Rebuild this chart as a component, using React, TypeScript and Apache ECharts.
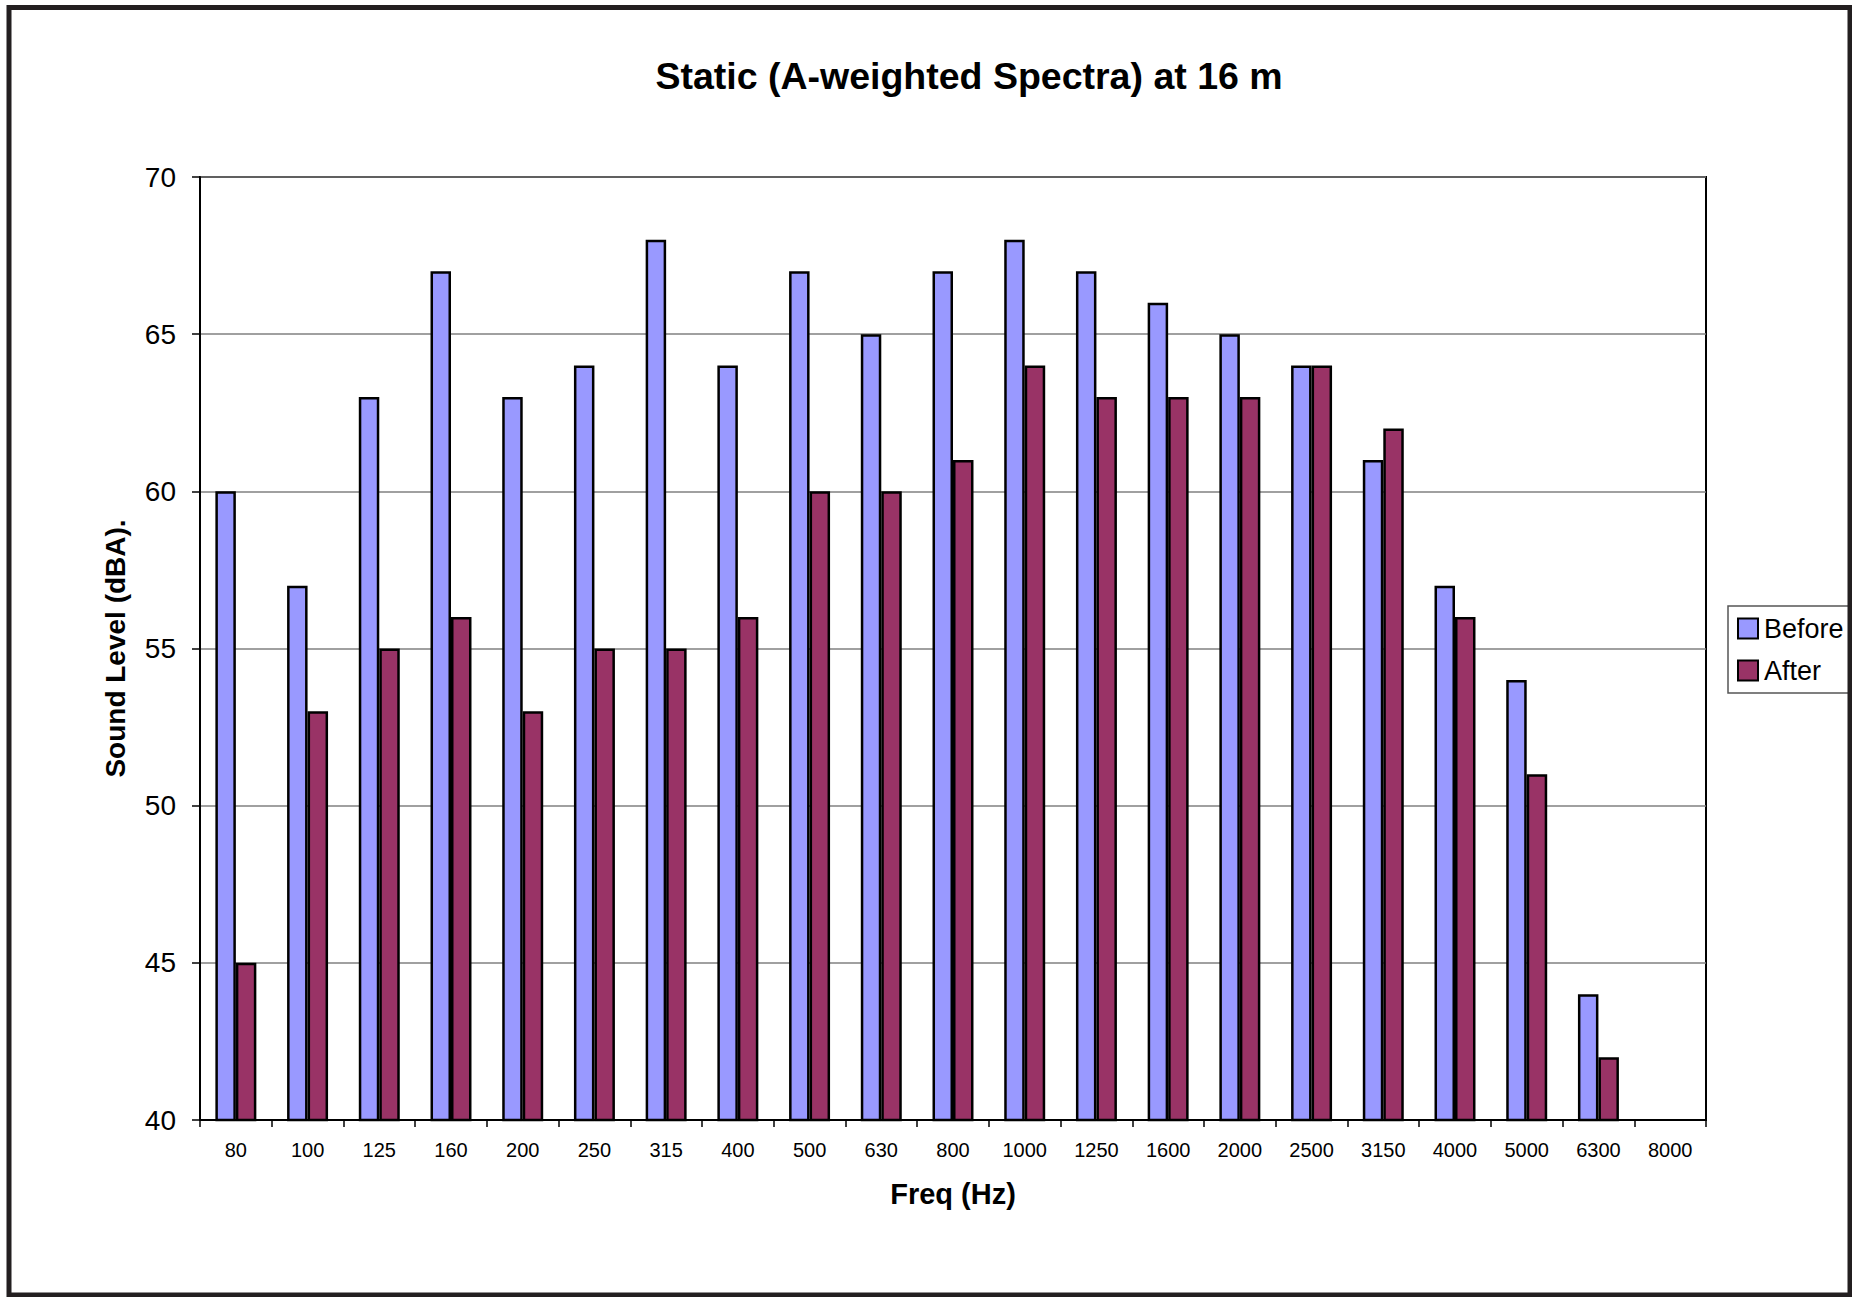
import React, { useEffect, useRef } from "react";
import * as echarts from "echarts";

const categories = ["80", "100", "125", "160", "200", "250", "315", "400", "500", "630", "800", "1000", "1250", "1600", "2000", "2500", "3150", "4000", "5000", "6300", "8000"];
const beforeValues = [60, 57, 63, 67, 63, 64, 68, 64, 67, 65, 67, 68, 67, 66, 65, 64, 61, 57, 54, 44, 40];
const afterValues: (number | null)[] = [45, 53, 55, 56, 53, 55, 55, 56, 60, 60, 61, 64, 63, 63, 63, 64, 62, 56, 51, 42, null];
const seriesNames = ["Before", "After"];
const yMin = 40;
const yMax = 70;
const yStep = 5;

const FONT = "'Liberation Sans', Arial, sans-serif";

export default function App() {
  const ref = useRef<HTMLDivElement>(null);
  useEffect(() => {
    if (!ref.current) return;
    const chart = echarts.init(ref.current, null, { renderer: "svg" });
    chart.setOption({
      animation: false,
      backgroundColor: "#ffffff",
      title: {
        text: "Static (A-weighted Spectra) at 16 m",
        left: 964,
        top: 52,
        textAlign: "center",
        textStyle: { fontFamily: FONT, fontSize: 37.5, fontWeight: "bold", color: "#000" },
      },
      legend: {
        orient: "vertical",
        left: 1728,
        top: 606,
        padding: [9, 12, 9, 9],
        itemWidth: 20,
        itemHeight: 20,
        itemGap: 15,
        borderColor: "#555",
        borderWidth: 1.5,
        backgroundColor: "#fff",
        icon: "rect",
        textStyle: { fontFamily: FONT, fontSize: 27, color: "#000", padding: [0, 0, 0, 1] },
        data: seriesNames,
      },
      grid: {
        left: 200,
        top: 177,
        width: 1506,
        height: 943,
        show: true,
        borderColor: "#000",
        borderWidth: 2,
        backgroundColor: "#fff",
      },
      xAxis: {
        type: "category",
        data: categories,
        name: "Freq (Hz)",
        nameLocation: "middle",
        nameGap: 59,
        nameTextStyle: { fontFamily: FONT, fontSize: 29, fontWeight: "bold", color: "#000" },
        axisLine: { lineStyle: { color: "#000", width: 2 } },
        axisTick: { show: true, length: 7, lineStyle: { color: "#000", width: 1.5 } },
        axisLabel: { fontFamily: FONT, fontSize: 20, color: "#000", margin: 20, interval: 0 },
        splitLine: { show: false },
      },
      yAxis: {
        type: "value",
        min: yMin,
        max: yMax,
        interval: yStep,
        name: "Sound Level (dBA).",
        nameLocation: "middle",
        nameGap: 71,
        nameTextStyle: { fontFamily: FONT, fontSize: 28, fontWeight: "bold", color: "#000" },
        axisLine: { show: true, lineStyle: { color: "#000", width: 2 } },
        axisTick: { show: true, length: 8, lineStyle: { color: "#000", width: 1.5 } },
        axisLabel: { fontFamily: FONT, fontSize: 28, color: "#000", margin: 24 },
        splitLine: { show: true, lineStyle: { color: "#808080", width: 1.5 } },
      },
      series: [
        {
          name: seriesNames[0],
          type: "bar",
          data: beforeValues,
          barGap: "0%",
          barCategoryGap: "42.86%",
          itemStyle: { color: "#9999ff", borderColor: "#000", borderWidth: 2.5 },
        },
        {
          name: seriesNames[1],
          type: "bar",
          data: afterValues,
          barGap: "0%",
          barCategoryGap: "42.86%",
          itemStyle: { color: "#993366", borderColor: "#000", borderWidth: 2.5 },
        },
      ],
      graphic: [
        {
          type: "rect",
          z: 100,
          silent: true,
          shape: { x: 9, y: 7.5, width: 1841, height: 1287.5 },
          style: { fill: "none", stroke: "#231f20", lineWidth: 5 },
        },
      ],
    });
    return () => chart.dispose();
  }, []);
  return (
    <div
      ref={ref}
      style={{ position: "fixed", left: 0, top: 0, width: 1852, height: 1297, background: "#fff" }}
    />
  );
}
